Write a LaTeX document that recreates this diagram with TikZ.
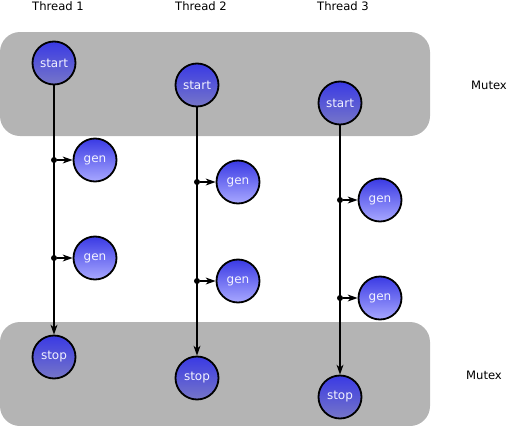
\documentclass[tikz,border=0pt]{standalone}
\usepackage{fontspec}
\setmainfont{DejaVu Sans}
\usetikzlibrary{arrows.meta}
\definecolor{mutexgray}{RGB}{180,180,180}
\definecolor{nodetop}{RGB}{58,58,228}
\definecolor{nodebot}{RGB}{118,118,200}
\definecolor{genbot}{RGB}{168,168,255}
\definecolor{nodetext}{RGB}{242,242,255}

\tikzset{
  threadstate/.style={circle, draw=black, line width=1.8pt, minimum size=43pt,
    inner sep=0pt, top color=nodetop, bottom color=nodebot, text=nodetext,
    font=\fontsize{12}{14}\selectfont},
  genstate/.style={threadstate, bottom color=genbot},
  mutex/.style={fill=mutexgray, rounded corners=20pt},
  tap/.style={circle, fill=black, inner sep=0pt, minimum size=6pt},
  flow/.style={line width=1.1pt, -{Stealth[length=10pt,width=7pt]}},
  label/.style={anchor=base, font=\fontsize{11.6}{13}\selectfont}
}

\begin{document}
\begin{tikzpicture}[x=1pt,y=-1pt]
\useasboundingbox (0,0) rectangle (507,426);
% Mutex regions
\fill[mutex] (0,32) rectangle (430,136);
\fill[mutex] (0,322) rectangle (430,426);
\node[label] (mutex1) at (489,89) {Mutex};
\node[label] (mutex2) at (484,379) {Mutex};

% Thread 1
\node[label] (thread1) at (58,10) {Thread 1};
\node[threadstate] (start1) at (54,63) {start};
\node[threadstate] (stop1) at (54,357) {stop};
\node[genstate] (gen11) at (95,160) {gen};
\node[genstate] (gen12) at (95,258) {gen};
\node[tap] (tap11) at (54,160) {};
\node[tap] (tap12) at (54,258) {};
\draw[flow] (start1) -- (stop1);
\draw[flow] (tap11) -- (gen11);
\draw[flow] (tap12) -- (gen12);

% Thread 2
\node[label] (thread2) at (201,10) {Thread 2};
\node[threadstate] (start2) at (197,85) {start};
\node[threadstate] (stop2) at (197,378) {stop};
\node[genstate] (gen21) at (238,182) {gen};
\node[genstate] (gen22) at (238,281) {gen};
\node[tap] (tap21) at (197,182) {};
\node[tap] (tap22) at (197,281) {};
\draw[flow] (start2) -- (stop2);
\draw[flow] (tap21) -- (gen21);
\draw[flow] (tap22) -- (gen22);

% Thread 3
\node[label] (thread3) at (343,10) {Thread 3};
\node[threadstate] (start3) at (340,103) {start};
\node[threadstate] (stop3) at (340,397) {stop};
\node[genstate] (gen31) at (380,200) {gen};
\node[genstate] (gen32) at (380,298) {gen};
\node[tap] (tap31) at (340,200) {};
\node[tap] (tap32) at (340,298) {};
\draw[flow] (start3) -- (stop3);
\draw[flow] (tap31) -- (gen31);
\draw[flow] (tap32) -- (gen32);
\end{tikzpicture}
\end{document}
